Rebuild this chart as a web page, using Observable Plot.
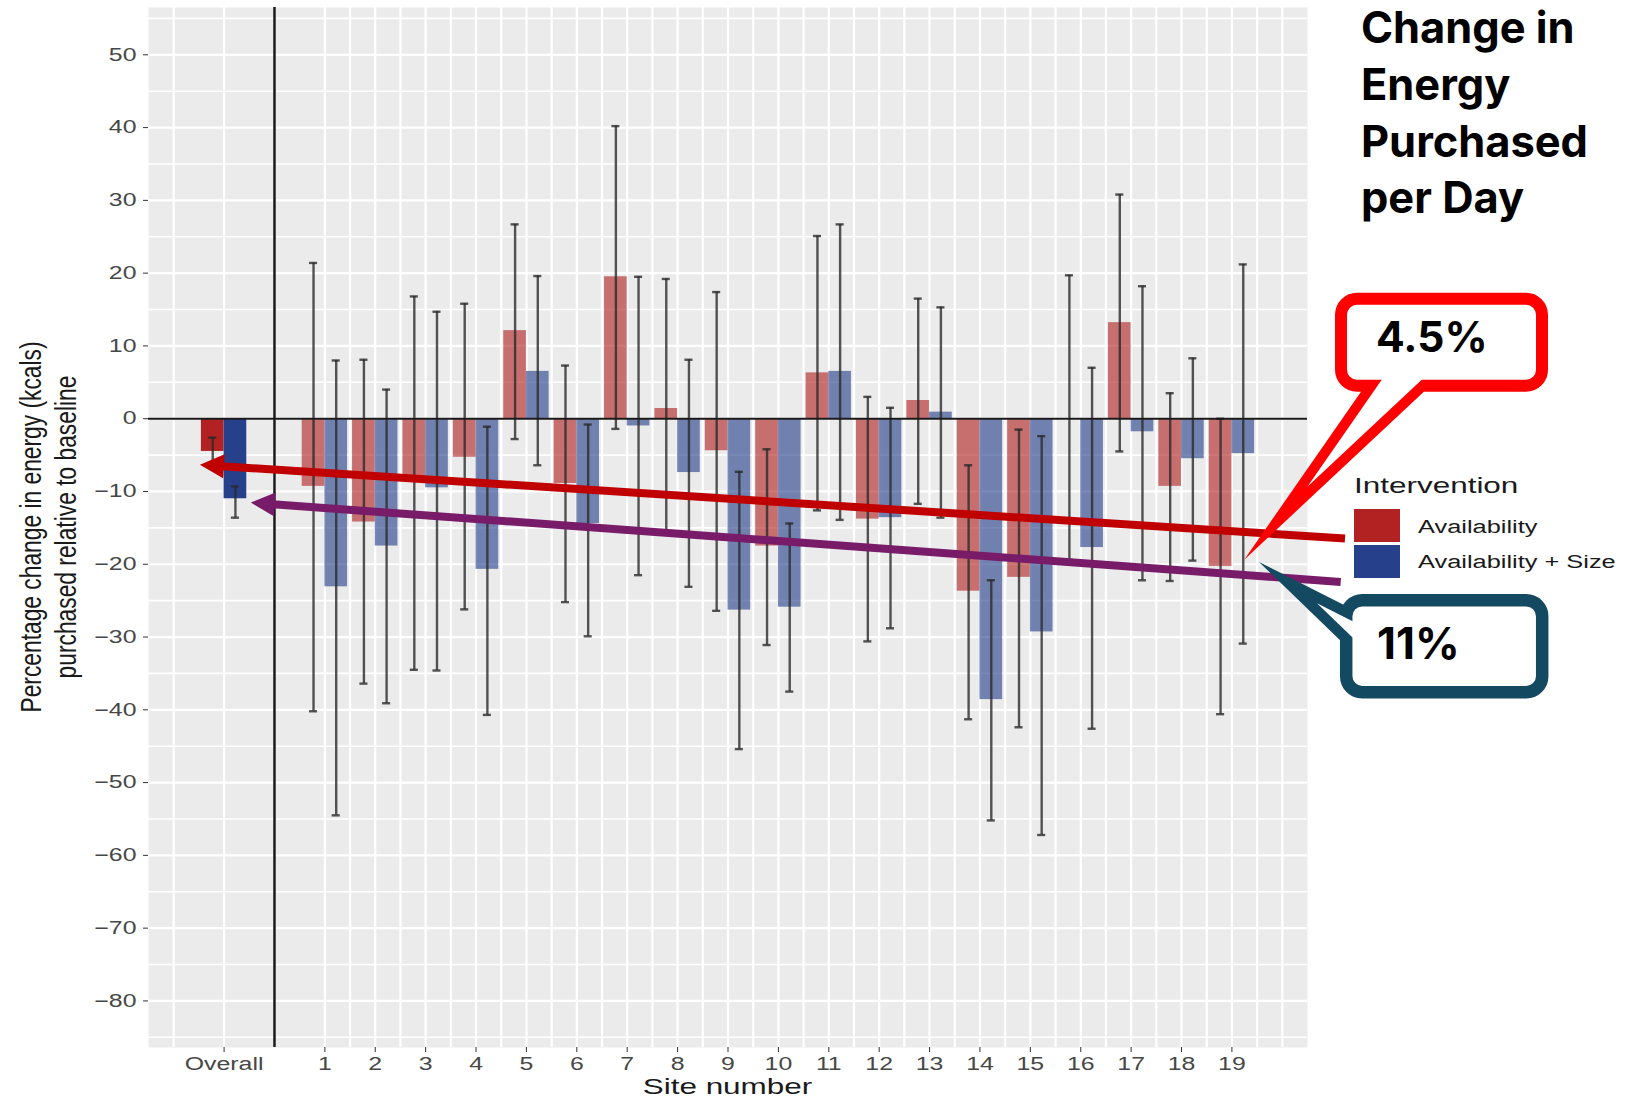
<!DOCTYPE html>
<html>
<head>
<meta charset="utf-8">
<script src="https://cdn.jsdelivr.net/npm/d3@7"></script>
<script src="https://cdn.jsdelivr.net/npm/@observablehq/plot@0.6"></script>
<style>
  html, body { margin: 0; padding: 0; background: #ffffff; }
  #chart { width: 1633px; height: 1099px; position: relative; overflow: hidden; }
</style>
</head>
<body>
<div id="chart"></div>
<script>
// ---- Data: percentage change in energy (kcals) purchased relative to baseline ----
const siteLabels = ["Overall", "1", "2", "3", "4", "5", "6", "7", "8", "9", "10",
                    "11", "12", "13", "14", "15", "16", "17", "18", "19"];
const interventions = ["Availability", "Availability + Size"];

const availabilityChange = [-4.5, -9.3, -14.2, -8.3, -5.3, 12.1, -8.9, 19.5, 1.4, -4.4, -17.5,
                            6.3, -13.8, 2.5, -23.7, -21.8, -0.1, 13.2, -9.3, -20.3];
const availabilityLower  = [-6.6, -40.2, -36.4, -34.5, -26.2, -2.8, -25.2, -1.4, -15.4, -26.4, -31.1,
                            -12.6, -30.6, -11.7, -41.3, -42.4, -19.4, -4.5, -22.3, -40.6];
const availabilityUpper  = [-2.6, 21.4, 8.1, 16.8, 15.8, 26.7, 7.3, 40.2, 19.2, 17.4, -4.2,
                            25.1, 3.0, 16.5, -6.4, -1.5, 19.7, 30.8, 3.5, 0.0];

const sizeChange = [-11, -23.1, -17.5, -9.5, -20.7, 6.5, -14.4, -1.0, -7.4, -26.3, -25.9,
                    6.5, -13.6, 0.9, -38.6, -29.3, -17.7, -1.8, -5.5, -4.8];
const sizeLower  = [-13.6, -54.5, -39.1, -34.6, -40.7, -6.4, -29.9, -21.5, -23.1, -45.4, -37.5,
                    -13.9, -28.8, -13.6, -55.2, -57.2, -42.6, -22.2, -19.5, -30.9];
const sizeUpper  = [-9.3, 8.0, 4.0, 14.7, -1.1, 19.6, -0.8, 19.5, 8.1, -7.3, -14.4,
                    26.7, 1.5, 15.3, -22.2, -2.4, 7.0, 18.2, 8.3, 21.2];

const yTicks = [50, 40, 30, 20, 10, 0, -10, -20, -30, -40, -50, -60, -70, -80];

const titleLines = ["Change in", "Energy", "Purchased", "per Day"];
const yAxisTitle = ["Percentage change in energy (kcals)", "purchased relative to baseline"];
const xAxisTitle = "Site number";
const legendTitle = "Intervention";

// ---- Layout helpers ----
// Overall sits in slot 0, slot 1 is the separator, sites follow from slot 2.
const slots = siteLabels.map((s, i) => (i === 0 ? 0 : i + 1));
const labelBySlot = new Map(slots.map((p, i) => [p, siteLabels[i]]));
const barW = 0.45;
const capHalf = 0.08;

const rows = siteLabels.flatMap((site, i) => [
  {site, slot: slots[i], intervention: interventions[0], side: -1,
   value: availabilityChange[i], lower: availabilityLower[i], upper: availabilityUpper[i]},
  {site, slot: slots[i], intervention: interventions[1], side: 1,
   value: sizeChange[i], lower: sizeLower[i], upper: sizeUpper[i]}
]);
const centre = d => d.slot + d.side * barW / 2;

const yMinor = [55, 45, 35, 25, 15, 5, -5, -15, -25, -35, -45, -55, -65, -75, -85];
const xGrid = [-1, 0, 1].concat(d3.range(2, 21.01, 0.5));

const FONT = "'Liberation Sans', Arial, Helvetica, sans-serif";
const colors = ["#B22222", "#27408B"];
const fmt = d => (d < 0 ? "\u2212" + Math.abs(d) : String(d));
const errStyle = {stroke: "#2b2b2b", strokeOpacity: 0.8, strokeWidth: 2.4};

const chart = Plot.plot({
  width: 1633,
  height: 1099,
  marginLeft: 148,
  marginRight: 326,
  marginTop: 7,
  marginBottom: 52,
  style: {fontFamily: FONT, fontSize: "18px", background: "#ffffff"},
  x: {type: "linear", domain: [-1.5, 21.5]},
  y: {domain: [-86.4, 56.5]},
  color: {domain: interventions, range: colors},
  marks: [
    Plot.frame({fill: "#EBEBEB", stroke: "none"}),
    Plot.gridY({ticks: yMinor, stroke: "#ffffff", strokeOpacity: 1, strokeWidth: 1.6}),
    Plot.gridY({ticks: yTicks, stroke: "#ffffff", strokeOpacity: 1, strokeWidth: 2.2}),
    Plot.gridX({ticks: xGrid, stroke: "#ffffff", strokeOpacity: 1, strokeWidth: 2.2}),
    Plot.rect(rows, {
      x1: d => (d.side < 0 ? d.slot - barW : d.slot),
      x2: d => (d.side < 0 ? d.slot : d.slot + barW),
      y1: 0,
      y2: "value",
      fill: "intervention",
      fillOpacity: d => (d.site === "Overall" ? 1 : 0.62)
    }),
    Plot.ruleX(rows, {x: centre, y1: "lower", y2: "upper", ...errStyle}),
    Plot.ruleY(rows, {y: "lower", x1: d => centre(d) - capHalf, x2: d => centre(d) + capHalf, ...errStyle}),
    Plot.ruleY(rows, {y: "upper", x1: d => centre(d) - capHalf, x2: d => centre(d) + capHalf, ...errStyle}),
    Plot.ruleY([0], {stroke: "#1a1a1a", strokeWidth: 2}),
    Plot.ruleX([1], {stroke: "#1a1a1a", strokeWidth: 2.5}),
    Plot.axisY({ticks: yTicks, tickFormat: fmt, tickSize: 5, tickPadding: 7,
                stroke: "#333333", fill: "#474747", label: null}),
    Plot.axisX({ticks: slots, tickFormat: p => labelBySlot.get(p) ?? "", tickSize: 5, tickPadding: 5,
                stroke: "#333333", fill: "#474747", label: null})
  ]
});

document.getElementById("chart").append(chart);
const svg = d3.select(chart);
const xs = chart.scale("x");
const ys = chart.scale("y");
const X = v => xs.apply(v);
const Y = v => ys.apply(v);

// Axis text is set wide, as in the exported figure
const stretch = 1.38;
function widen(selection, k = stretch) {
  selection.each(function () {
    const x = parseFloat(this.getAttribute("x")) || 0;
    const t = this.getAttribute("transform") || "";
    this.setAttribute("transform", `${t} translate(${x},0) scale(${k},1) translate(${-x},0)`);
  });
}
widen(svg.selectAll("text"));

const layer = svg.append("g").attr("font-family", FONT).attr("text-anchor", "start");

// Axis titles
const midY = (Y(56.5) + Y(-86.4)) / 2;
const yt = layer.append("g")
  .attr("transform", `translate(0,${midY}) rotate(-90) scale(1,1.33)`)
  .attr("font-size", 22.8).attr("fill", "#1a1a1a").attr("text-anchor", "middle");
yt.append("text").attr("y", 41 / 1.33).text(yAxisTitle[0]);
yt.append("text").attr("y", 76 / 1.33).text(yAxisTitle[1]);

const xt = layer.append("text")
  .attr("x", (X(-1.5) + X(21.5)) / 2).attr("y", 1094)
  .attr("font-size", 22.8).attr("fill", "#1a1a1a").attr("text-anchor", "middle")
  .text(xAxisTitle);
widen(xt);

// Legend
const lg = layer.append("g").attr("text-anchor", "start");
widen(lg.append("text").attr("x", 1354).attr("y", 493).attr("font-size", 22.8)
  .attr("fill", "#1a1a1a").text(legendTitle));
interventions.forEach((name, i) => {
  lg.append("rect").attr("x", 1354).attr("y", 509 + i * 36).attr("width", 46).attr("height", 33)
    .attr("fill", chart.scale("color").apply(name));
  widen(lg.append("text").attr("x", 1418).attr("y", 532.7 + i * 35.6).attr("font-size", 18)
    .attr("fill", "#1a1a1a").text(name), 1.41);
});

// Arrows pointing at the overall effects
function arrow(g, tail, tip, color) {
  const dx = tail[0] - tip[0], dy = tail[1] - tip[1], L = Math.hypot(dx, dy);
  const ux = dx / L, uy = dy / L, head = 24, hw = 12;
  const bx = tip[0] + ux * head, by = tip[1] + uy * head;
  g.append("line").attr("x1", tail[0]).attr("y1", tail[1]).attr("x2", bx - ux * 2).attr("y2", by - uy * 2)
    .attr("stroke", color).attr("stroke-width", 8);
  g.append("path")
    .attr("d", `M${tip[0]},${tip[1]}L${bx - uy * hw},${by + ux * hw}L${bx + uy * hw},${by - ux * hw}Z`)
    .attr("fill", color);
}
const arrows = layer.append("g");
arrow(arrows, [1345, 538.5], [X(-barW) - 1, Y(-6.4)], "#C00000");
arrow(arrows, [1340.7, 582], [X(barW + 0.09), Y(-11.6)], "#781C69");

// Callout boxes
function callout(g, box, tip, baseA, baseB, color, sw, label, tx, ty, size) {
  // inner edges of the pointer, offset inward by the outline width
  function inner(p, q, other, d) {
    let nx = -(q[1] - p[1]), ny = q[0] - p[0];
    const n = Math.hypot(nx, ny); nx /= n; ny /= n;
    if (nx * (other[0] - p[0]) + ny * (other[1] - p[1]) < 0) { nx = -nx; ny = -ny; }
    return {p: [p[0] + nx * d, p[1] + ny * d], v: [q[0] - p[0], q[1] - p[1]]};
  }
  const la = inner(tip, baseA, baseB, sw * 0.85), lb = inner(tip, baseB, baseA, sw * 0.85);
  const det = la.v[0] * (-lb.v[1]) - la.v[1] * (-lb.v[0]);
  const rx = lb.p[0] - la.p[0], ry = lb.p[1] - la.p[1];
  const t = (rx * (-lb.v[1]) - ry * (-lb.v[0])) / det;
  const ip = [la.p[0] + la.v[0] * t, la.p[1] + la.v[1] * t];
  const ea = [la.p[0] + la.v[0] * 1.25, la.p[1] + la.v[1] * 1.25];
  const eb = [lb.p[0] + lb.v[0] * 1.25, lb.p[1] + lb.v[1] * 1.25];
  g.append("path").attr("d", `M${baseA}L${tip}L${baseB}Z`).attr("fill", color);
  g.append("rect").attr("x", box[0]).attr("y", box[1]).attr("width", box[2]).attr("height", box[3])
    .attr("rx", 16).attr("fill", "#ffffff").attr("stroke", color).attr("stroke-width", sw);
  g.append("path").attr("d", `M${ea}L${ip}L${eb}Z`).attr("fill", "#ffffff");
  g.append("text").attr("x", tx).attr("y", ty).attr("text-anchor", "start")
    .attr("font-family", "Inter, 'Open Sans', sans-serif")
    .attr("font-weight", 700).attr("font-size", size).attr("fill", "#000000").text(label);
}
const notes = layer.append("g");
callout(notes, [1341, 298.7, 201, 87], [1244, 560], [1365, 386], [1430, 386], "#FF0000", 12,
        `${Math.abs(availabilityChange[0])}%`, 1376, 352, 42.5);
callout(notes, [1346.2, 600.2, 196, 92], [1259, 562], [1346, 606], [1346, 646], "#144A61", 12.5,
        `${Math.abs(sizeChange[0])}%`, 1377, 659, 44);

// Title
const title = layer.append("text").attr("text-anchor", "start")
  .attr("font-family", "Inter, 'Open Sans', sans-serif")
  .attr("font-weight", 700).attr("font-size", 43.4).attr("fill", "#000000");
titleLines.forEach((line, i) => {
  title.append("tspan").attr("x", 1361).attr("y", 42.7 + i * 56.9).text(line);
});
</script>
</body>
</html>
